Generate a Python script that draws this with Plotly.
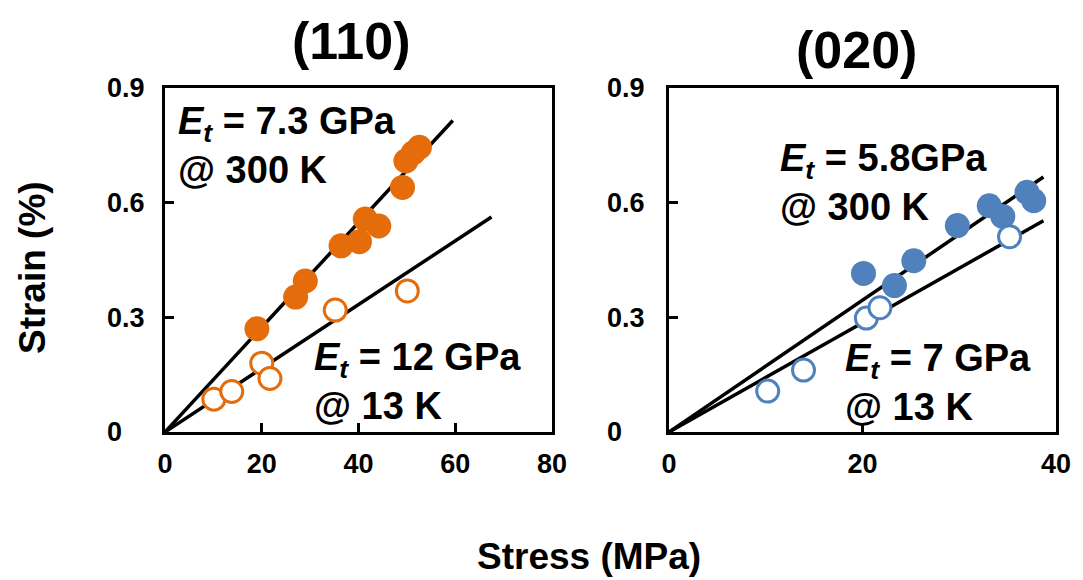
import plotly.graph_objects as go

# ---- data: (110) reflection ----
stress_110_300K = [19.0, 27.0, 29.0, 36.4, 40.2, 41.4, 44.2, 49.1, 49.8, 51.3, 52.6]
strain_110_300K = [0.270, 0.353, 0.395, 0.487, 0.498, 0.557, 0.539, 0.640, 0.709, 0.730, 0.745]
stress_110_13K = [10.1, 13.8, 20.0, 21.7, 35.2, 50.1]
strain_110_13K = [0.086, 0.106, 0.180, 0.140, 0.319, 0.369]

# ---- data: (020) reflection ----
stress_020_300K = [20.1, 23.3, 25.3, 29.8, 33.1, 34.5, 37.0, 37.7]
strain_020_300K = [0.415, 0.383, 0.448, 0.540, 0.592, 0.564, 0.627, 0.605]
stress_020_13K = [10.2, 13.9, 20.4, 21.8, 35.2]
strain_020_13K = [0.107, 0.162, 0.298, 0.325, 0.511]

# tangent moduli (GPa) for 300 K and 13 K, and stress extent of each fit line (MPa)
modulus_110 = [7.3, 12.0]
fit_end_110 = [59.5, 67.5]
modulus_020 = [5.8, 7.0]
fit_end_020 = [38.7, 38.7]

x_ticks_110 = [0, 20, 40, 60, 80]
x_ticks_020 = [0, 20, 40]
y_ticks = [0, 0.3, 0.6, 0.9]
y_tick_text = ["0\u00a0\u00a0\u00a0", "0.3", "0.6", "0.9"]

ORANGE = "#E46C0A"
BLUE = "#4F81BD"
FONT = "Liberation Sans, Arial, sans-serif"

W, H = 1083, 580
ML, MR, MT, MB = 165, 20, 88, 148
PW = W - ML - MR
PH = H - MT - MB


def px_x(px):
    return (px - ML) / PW


def px_y(py):
    return (H - MB - py) / PH


fig = go.Figure()


def fit_line(E, x_end, xa, ya):
    # strain (%) = stress (MPa) / (E[GPa] * 1000) * 100
    fig.add_trace(go.Scatter(
        x=[0, x_end], y=[0, x_end / (E * 10)], mode="lines",
        line=dict(color="black", width=3.5), xaxis=xa, yaxis=ya,
        showlegend=False, hoverinfo="skip"))


for E, xe in zip(modulus_110, fit_end_110):
    fit_line(E, xe, "x", "y")
for E, xe in zip(modulus_020, fit_end_020):
    fit_line(E, xe, "x2", "y2")


def points(xs, ys, color, filled, xa, ya):
    if filled:
        marker = dict(symbol="circle", size=25, color=color,
                      line=dict(width=0))
    else:
        marker = dict(symbol="circle", size=22, color="white",
                      line=dict(width=3, color=color))
    fig.add_trace(go.Scatter(x=xs, y=ys, mode="markers", marker=marker,
                             xaxis=xa, yaxis=ya, showlegend=False))


points(stress_110_300K, strain_110_300K, ORANGE, True, "x", "y")
points(stress_110_13K, strain_110_13K, ORANGE, False, "x", "y")
points(stress_020_300K, strain_020_300K, BLUE, True, "x2", "y2")
points(stress_020_13K, strain_020_13K, BLUE, False, "x2", "y2")

axis_common = dict(
    showline=True, mirror=True, linecolor="black", linewidth=3,
    ticks="inside", ticklen=9, tickwidth=2.5, tickcolor="black",
    showgrid=False, zeroline=False,
    tickfont=dict(family=FONT, size=27, color="black", weight="bold"),
)

d1 = [0, (555 - ML) / PW]
d2 = [(673 - ML) / PW, 1.0]

fig.update_layout(
    width=W, height=H,
    margin=dict(l=ML, r=MR, t=MT, b=MB),
    paper_bgcolor="white", plot_bgcolor="white",
    xaxis=dict(domain=d1, range=[0, 80], tickvals=x_ticks_110,
               ticklabelstandoff=6, **axis_common),
    yaxis=dict(domain=[0, 1], range=[0, 0.9], tickvals=y_ticks,
               ticktext=y_tick_text, ticklabelstandoff=12, **axis_common),
    xaxis2=dict(domain=d2, range=[0, 40], tickvals=x_ticks_020,
                anchor="y2", ticklabelstandoff=6, **axis_common),
    yaxis2=dict(domain=[0, 1], range=[0, 0.9], tickvals=y_ticks,
                ticktext=y_tick_text, anchor="x2", ticklabelstandoff=16,
                **axis_common),
)

title_font = dict(family=FONT, size=52, color="black", weight="bold")
label_font = dict(family=FONT, size=38, color="black", weight="bold")
axis_title_font = dict(family=FONT, size=37, color="black", weight="bold")

annotations = [
    dict(text="(110)", x=px_x(353), y=px_y(41), font=title_font,
         xanchor="center", yanchor="middle"),
    dict(text="(020)", x=px_x(862), y=px_y(50), font=title_font,
         xanchor="center", yanchor="middle"),
    dict(text="Strain (%)", x=px_x(31), y=px_y(268), font=axis_title_font,
         textangle=-90, xanchor="center", yanchor="middle"),
    dict(text="Stress (MPa)", x=px_x(592), y=px_y(556), font=axis_title_font,
         xanchor="center", yanchor="middle"),
    dict(text="<i>E</i><sub><i>t</i></sub> = 7.3 GPa<br>@ 300 K",
         x=px_x(176), y=px_y(145), font=label_font, align="left",
         xanchor="left", yanchor="middle"),
    dict(text="<i>E</i><sub><i>t</i></sub> = 12 GPa<br>@ 13 K",
         x=px_x(313), y=px_y(381), font=label_font, align="left",
         xanchor="left", yanchor="middle"),
    dict(text="<i>E</i><sub><i>t</i></sub> = 5.8GPa<br>@ 300 K",
         x=px_x(783), y=px_y(182), font=label_font, align="left",
         xanchor="left", yanchor="middle"),
    dict(text="<i>E</i><sub><i>t</i></sub> = 7 GPa<br>@ 13 K",
         x=px_x(848), y=px_y(382), font=label_font, align="left",
         xanchor="left", yanchor="middle"),
]
for a in annotations:
    a.update(xref="paper", yref="paper", showarrow=False)
fig.update_layout(annotations=annotations)

fig.write_html("out.html")
